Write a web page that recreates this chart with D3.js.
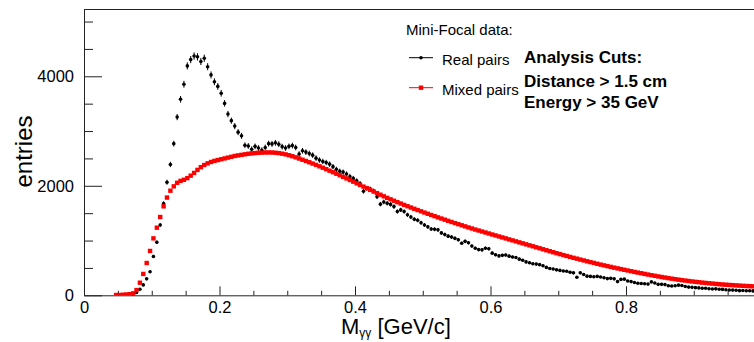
<!DOCTYPE html>
<html>
<head>
<meta charset="utf-8">
<script src="https://cdn.jsdelivr.net/npm/d3@7"></script>
<style>
  html, body { margin: 0; padding: 0; background: #fff; }
  svg { display: block; font-family: "Liberation Sans", Arial, Helvetica, sans-serif; }
</style>
</head>
<body>
<svg id="chart" width="754" height="342"></svg>
<script>
// Di-photon invariant mass, Mini-Focal data: real vs mixed-event pairs.
// Histogram binning (GeV/c)
const binWidth = 0.005;
const realFirstBin = 0.0725;   // centre of first filled bin, real pairs
const mixedFirstBin = 0.0475;  // centre of first filled bin, mixed pairs

// Entries per bin, real pairs
const realPairs = [
  5, 50, 110, 190, 300, 430, 710, 970, 1285, 1675,
  2065, 2390, 2770, 3255, 3580, 3855, 4190, 4305, 4370, 4355,
  4270, 4330, 4175, 4025, 3900, 3815, 3690, 3505, 3310, 3190,
  3090, 2980, 2912, 2740, 2728, 2668, 2720, 2690, 2650, 2700,
  2770, 2765, 2785, 2760, 2715, 2690, 2720, 2735, 2700, 2580,
  2640, 2615, 2590, 2560, 2505, 2470, 2445, 2425, 2395, 2350,
  2300, 2265, 2250, 2215, 2170, 2135, 2090, 2040, 1900, 1955,
  1940, 1905, 1800, 1665, 1705, 1680, 1660, 1620, 1530, 1560,
  1530, 1470, 1430, 1390, 1370, 1325, 1285, 1250, 1210, 1205,
  1195, 1140, 1110, 1080, 1065, 1040, 1015, 950, 985, 960,
  900, 860, 835, 830, 860, 850, 770, 740, 720, 730,
  735, 715, 700, 690, 660, 640, 610, 595, 575, 570,
  560, 540, 510, 490, 480, 465, 455, 445, 440, 420,
  410, 330, 410, 380, 350, 345, 340, 345, 335, 320,
  305, 310, 300, 250, 290, 295, 260, 250, 235, 220,
  215, 210, 205, 245, 225, 200, 200, 195, 175, 170,
  175, 185, 180, 160, 150, 145, 140, 135, 128, 128,
  120, 115, 118, 110, 108, 100, 98, 95, 92, 85,
  88, 82, 84, 80, 78, 75
];

// Entries per bin, mixed-event pairs (normalised)
const mixedPairs = [
  5, 5, 10, 15, 20, 35, 95, 230, 390, 590,
  810, 1040, 1235, 1430, 1625, 1785, 1910, 1990, 2055, 2090,
  2110, 2140, 2185, 2235, 2290, 2340, 2380, 2410, 2435, 2455,
  2470, 2485, 2500, 2515, 2530, 2545, 2555, 2565, 2575, 2585,
  2592, 2598, 2603, 2606, 2608, 2609, 2608, 2604, 2597, 2587,
  2574, 2558, 2540, 2520, 2498, 2476, 2453, 2430, 2406, 2382,
  2356, 2330, 2303, 2276, 2248, 2220, 2192, 2163, 2134, 2105,
  2075, 2045, 2015, 1985, 1955, 1925, 1895, 1866, 1837, 1808,
  1780, 1753, 1727, 1701, 1676, 1651, 1627, 1603, 1580, 1557,
  1534, 1511, 1489, 1467, 1445, 1423, 1402, 1381, 1360, 1339,
  1319, 1299, 1279, 1259, 1239, 1220, 1201, 1183, 1165, 1147,
  1129, 1111, 1093, 1075, 1057, 1039, 1021, 1003, 985, 967,
  949, 931, 913, 895, 877, 859, 841, 823, 805, 787,
  769, 752, 735, 718, 701, 685, 669, 653, 637, 621,
  606, 591, 576, 561, 547, 533, 519, 505, 492, 479,
  466, 453, 440, 427, 415, 403, 391, 379, 367, 356,
  345, 334, 324, 314, 304, 295, 286, 277, 269, 261,
  253, 246, 239, 232, 226, 220, 214, 208, 203, 198,
  193, 189, 185, 181, 177, 173, 170, 167, 164, 161,
  158
];

// Axis ticks
const xMajorTicks = [0, 0.2, 0.4, 0.6, 0.8];
const yMajorTicks = [0, 2000, 4000];
const xMinorStep = 0.05;
const yMinorStep = 500;

// Text
const legendTitle = "Mini-Focal data:";
const seriesNames = ["Real pairs", "Mixed pairs"];
const cutLines = ["Analysis Cuts:", "Distance > 1.5 cm", "Energy > 35 GeV"];
const yTitle = "entries";

const svg = d3.select("#chart");
const W = 754, H = 342;
const plot = { left: 84, top: 9, right: 761.5, bottom: 295.3 };

const x = d3.scaleLinear().domain([0, 1]).range([plot.left, plot.right]);
const y = d3.scaleLinear().domain([0, 5229]).range([plot.bottom, plot.top]);

const realData = realPairs.map((v, i) => ({ m: realFirstBin + i * binWidth, n: v }));
const mixedData = mixedPairs.map((v, i) => ({ m: mixedFirstBin + i * binWidth, n: v }));

// frame: top edge
svg.append("line")
  .attr("x1", plot.left).attr("x2", W)
  .attr("y1", plot.top + 0.5).attr("y2", plot.top + 0.5)
  .attr("stroke", "#222").attr("stroke-width", 1);

// minor ticks
const xMinor = d3.range(0, 1.0001, xMinorStep).filter(v => !xMajorTicks.some(t => Math.abs(t - v) < 1e-6));
const yMinor = d3.range(0, 5001, yMinorStep).filter(v => !yMajorTicks.includes(v));

svg.append("g")
  .attr("transform", `translate(0,${plot.bottom})`)
  .call(d3.axisBottom(x).tickValues(xMinor).tickSizeInner(-4.5).tickSizeOuter(0).tickFormat(""))
  .call(g => g.select(".domain").remove())
  .call(g => g.selectAll("line").attr("stroke", "#222"));

svg.append("g")
  .attr("transform", `translate(${plot.left},0)`)
  .call(d3.axisLeft(y).tickValues(yMinor).tickSizeInner(-9).tickSizeOuter(0).tickFormat(""))
  .call(g => g.select(".domain").remove())
  .call(g => g.selectAll("line").attr("stroke", "#222"));

// major axes
const fmtX = d => d === 0 ? "0" : d3.format(".1f")(d);
const xAxis = svg.append("g")
  .attr("transform", `translate(0,${plot.bottom})`)
  .call(d3.axisBottom(x).tickValues(xMajorTicks).tickSizeInner(-9).tickSizeOuter(0).tickPadding(6).tickFormat(fmtX));
xAxis.select(".domain").attr("stroke", "#222");
xAxis.selectAll("line").attr("stroke", "#222");
xAxis.selectAll("text").attr("fill", "#000").style("font-size", "16.5px")
  .style("font-family", "'Liberation Sans', Arial, sans-serif");

const yAxis = svg.append("g")
  .attr("transform", `translate(${plot.left},0)`)
  .call(d3.axisLeft(y).tickValues(yMajorTicks).tickSizeInner(-18).tickSizeOuter(0).tickPadding(10).tickFormat(d3.format("d")));
yAxis.select(".domain").attr("stroke", "#222");
yAxis.selectAll("line").attr("stroke", "#222");
yAxis.selectAll("text").attr("fill", "#000").style("font-size", "16.5px")
  .style("font-family", "'Liberation Sans', Arial, sans-serif");

// axis titles
const xt = svg.append("text")
  .attr("x", 341).attr("y", 334)
  .attr("fill", "#000").style("font-size", "22px");
xt.append("tspan").text("M");
xt.append("tspan").attr("dy", 3).style("font-size", "12px").text("γγ");
xt.append("tspan").attr("dy", -3).text(" [GeV/c]");

svg.append("text")
  .attr("transform", `translate(32,${151.5}) rotate(-90)`)
  .attr("text-anchor", "middle")
  .attr("fill", "#000").style("font-size", "24px")
  .text(yTitle);

// data layer, clipped to plot frame
svg.append("clipPath").attr("id", "plotClip")
  .append("rect").attr("x", plot.left).attr("y", plot.top)
  .attr("width", plot.right - plot.left).attr("height", plot.bottom - plot.top);
const data = svg.append("g").attr("clip-path", "url(#plotClip)");

// real pairs: dots with statistical error bars
const real = data.append("g");
real.selectAll("line").data(realData).join("line")
  .attr("x1", d => x(d.m)).attr("x2", d => x(d.m))
  .attr("y1", d => y(d.n + Math.sqrt(d.n))).attr("y2", d => y(Math.max(0, d.n - Math.sqrt(d.n))))
  .attr("stroke", "#000").attr("stroke-width", 1);
real.selectAll("circle").data(realData).join("circle")
  .attr("cx", d => x(d.m)).attr("cy", d => y(d.n)).attr("r", 1.8)
  .attr("fill", "#000");

// mixed pairs: red squares
const sq = 4.4;
data.append("g").selectAll("rect").data(mixedData).join("rect")
  .attr("x", d => x(d.m) - sq / 2).attr("y", d => y(d.n) - sq / 2)
  .attr("width", sq).attr("height", sq)
  .attr("fill", "#ff0000");

// legend
svg.append("text").attr("x", 406).attr("y", 35)
  .attr("fill", "#000").style("font-size", "15px").text(legendTitle);

const legendRows = [
  { name: seriesNames[0], y: 57.7, color: "#000", marker: "circle" },
  { name: seriesNames[1], y: 87.7, color: "#ff0000", marker: "square" }
];
legendRows.forEach(r => {
  svg.append("line").attr("x1", 409).attr("x2", 433).attr("y1", r.y).attr("y2", r.y)
    .attr("stroke", r.color).attr("stroke-width", 1);
  if (r.marker === "circle") {
    svg.append("circle").attr("cx", 421).attr("cy", r.y).attr("r", 1.8).attr("fill", r.color);
  } else {
    svg.append("rect").attr("x", 421 - 2.2).attr("y", r.y - 2.2).attr("width", 4.4).attr("height", 4.4).attr("fill", r.color);
  }
  svg.append("text").attr("x", 442).attr("y", r.y + 7)
    .attr("fill", "#000").style("font-size", "15px").text(r.name);
});

// analysis cuts
const cutY = [63.3, 87.3, 108.3];
cutLines.forEach((t, i) => {
  svg.append("text").attr("x", 524).attr("y", cutY[i])
    .attr("fill", "#000").style("font-size", "17px").style("font-weight", "bold").text(t);
});
</script>
</body>
</html>
